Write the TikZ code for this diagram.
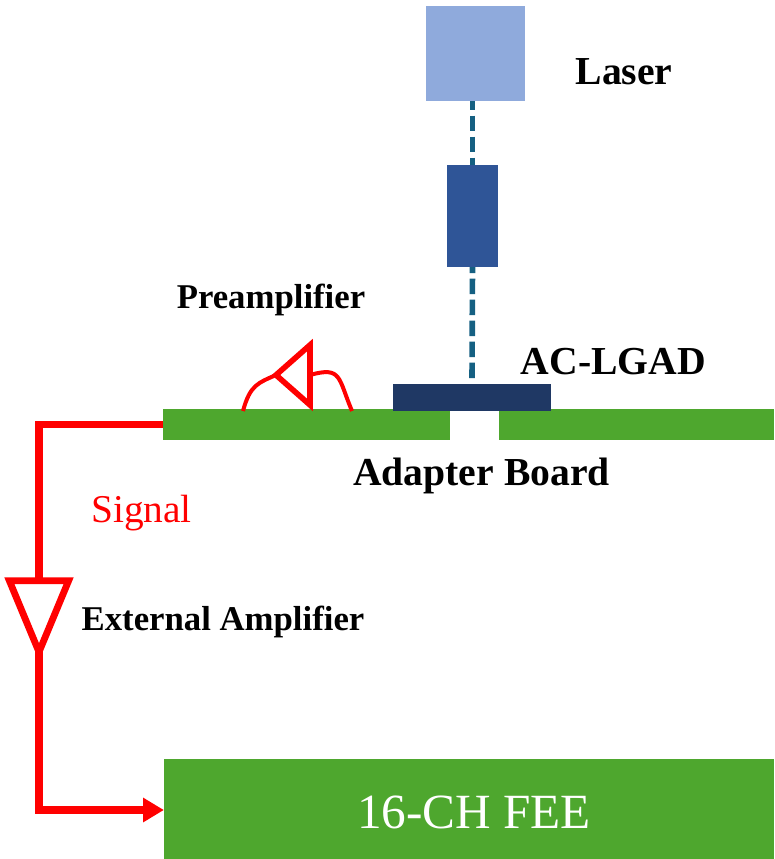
\documentclass[tikz,border=0pt]{standalone}
\usepackage{fontspec}
\setmainfont{Liberation Serif}
\usetikzlibrary{positioning,arrows.meta,shapes.geometric}
\definecolor{laserblue}{HTML}{8FAADC}
\definecolor{lensblue}{HTML}{2F5597}
\definecolor{chipblue}{HTML}{1F3864}
\definecolor{beamteal}{HTML}{156082}
\definecolor{boardgreen}{HTML}{4EA72E}
\definecolor{sigred}{HTML}{FF0000}

\begin{document}
\begin{tikzpicture}[x=0.025cm,y=-0.025cm,>=Latex,
block/.style={inner sep=0pt,outer sep=0pt,text=white},
lbl/.style={inner sep=0pt,font=\fontsize{28.2}{30}\selectfont\bfseries},
lblsmall/.style={inner sep=0pt,font=\fontsize{24.7}{26}\selectfont\bfseries},
beam/.style={draw=beamteal,line width=0.14cm,dash pattern=on 0.3875cm off 0.1375cm},
sig/.style={draw=sigred,line width=0.19cm},
wire/.style={draw=sigred,line width=0.1cm},
amp/.style={draw=sigred,isosceles triangle,isosceles triangle stretches,inner sep=0pt,outer sep=0pt}]
\useasboundingbox (0,0) rectangle (774,859);
% boards
\node[block,fill=boardgreen,minimum width=7.175cm,minimum height=0.775cm] (boardl) at (306.5,424.5) {};
\node[block,fill=boardgreen,minimum width=6.875cm,minimum height=0.775cm] (boardr) at (636.5,424.5) {};
\node[block,fill=boardgreen,minimum width=15.25cm,minimum height=2.55cm] (fee) at (469,810) {};
\node[text=white,inner sep=0pt,font=\fontsize{35}{37}\selectfont] (feetext) at (474,812) {16-CH FEE};
% optics
\node[block,fill=laserblue,minimum width=2.475cm,minimum height=2.375cm] (laser) at (475.5,53.5) {};
\node[block,fill=lensblue,minimum width=1.275cm,minimum height=2.55cm] (lens) at (472.5,216) {};
\node[block,fill=chipblue,minimum width=3.95cm,minimum height=0.675cm] (chip) at (472,397.5) {};
\coordinate (beamend) at (472,379);
\draw[beam,dash phase=0.1625cm] (laser.south -| lens) -- (lens.north);
\draw[beam,dash phase=0.2375cm] (lens.south) -- (beamend);
% amplifiers
\node[amp,line width=0.14cm,shape border rotate=180,minimum width=1.5cm,minimum height=0.85cm,anchor=apex] (preamp) at (276,375) {};
\node[amp,line width=0.17cm,shape border rotate=-90,minimum width=1.48cm,minimum height=1.78cm,anchor=apex] (extamp) at (39,652) {};
\coordinate (padl) at (243,411);
\coordinate (padr) at (352,411);
\draw[wire] (padl) .. controls (250,385) and (258,383) .. (preamp.apex);
\draw[wire] (preamp.lower side) .. controls (342,366) and (338,378) .. (padr);
% signal path
\draw[sig] (boardl.west) -| (extamp.lower side);
\draw[sig,-{Triangle[length=0.52cm,width=0.58cm]}] (extamp.apex) |- (fee.west);
% labels
\node[lbl] (laserlbl) at (624,72) {Laser};
\node[lbl] (chiplbl) at (613.5,362) {AC-LGAD};
\node[lbl] (boardlbl) at (481.5,476) {Adapter Board};
\node[lblsmall] (prelbl) at (271,300) {Preamplifier};
\node[lblsmall] (extlbl) at (223,622) {External Amplifier};
\node[inner sep=0pt,text=sigred,font=\fontsize{28}{30}\selectfont] (siglbl) at (141.5,513) {Signal};
\end{tikzpicture}
\end{document}
